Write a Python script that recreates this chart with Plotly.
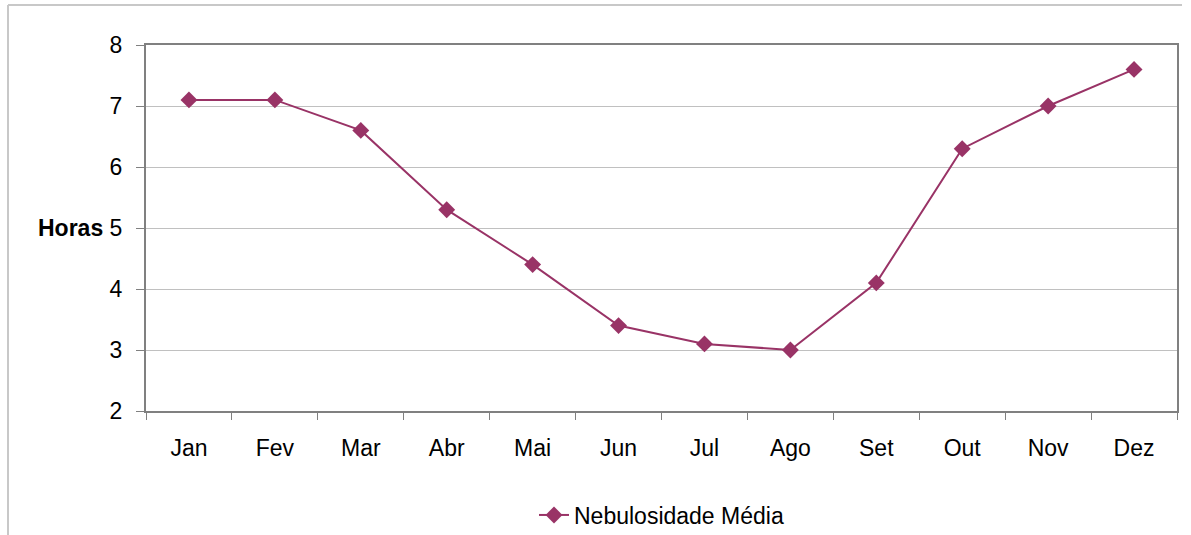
import plotly.graph_objects as go

months = ["Jan", "Fev", "Mar", "Abr", "Mai", "Jun", "Jul", "Ago", "Set", "Out", "Nov", "Dez"]
nebulosidade = [7.1, 7.1, 6.6, 5.3, 4.4, 3.4, 3.1, 3.0, 4.1, 6.3, 7.0, 7.6]
y_ticks = [2, 3, 4, 5, 6, 7, 8]

color = "#993366"
font = "Liberation Sans, Arial, sans-serif"

fig = go.Figure()
fig.add_trace(go.Scatter(
    x=months, y=nebulosidade, mode="lines+markers",
    name="Nebulosidade Média",
    line=dict(color=color, width=2),
    marker=dict(symbol="diamond", size=13, color=color),
))

W, H = 1191, 535
L, R, T, B = 146, 14, 45, 124
pw, ph = W - L - R, H - T - B

def px(x):
    return (x - L) / pw

def py(y):
    return (H - B - y) / ph

fig.update_layout(
    width=W, height=H,
    margin=dict(l=L, r=R, t=T, b=B, autoexpand=False),
    paper_bgcolor="white", plot_bgcolor="white",
    font=dict(family=font, size=23, color="black"),
    showlegend=True,
    legend=dict(orientation="h", x=0.5, xanchor="center", y=py(515), yanchor="middle",
                font=dict(size=23), bgcolor="rgba(0,0,0,0)"),
    xaxis=dict(
        type="category", tickson="boundaries", ticks="outside", ticklen=7,
        tickcolor="#808080", tickwidth=1, automargin=False,
        showline=True, linecolor="#808080", linewidth=2, mirror=True,
        showgrid=False, ticklabelstandoff=15, range=[-0.5, 11.5],
    ),
    yaxis=dict(
        range=[2, 8], tickvals=y_ticks, ticks="outside", ticklen=8,
        tickcolor="#808080", tickwidth=1, automargin=False,
        showline=True, linecolor="#808080", linewidth=2, mirror=True,
        showgrid=True, gridcolor="#c0c0c0", gridwidth=1,
        ticklabelstandoff=9, zeroline=False,
    ),
    shapes=[
        dict(type="line", xref="paper", yref="paper", x0=px(8), x1=px(1182), y0=py(5), y1=py(5),
             line=dict(color="#c8c8c8", width=2)),
        dict(type="line", xref="paper", yref="paper", x0=px(8), x1=px(8), y0=py(5), y1=py(540),
             line=dict(color="#c8c8c8", width=2)),
    ],
    annotations=[
        dict(text="<b>Horas</b>", xref="paper", yref="y", x=px(105), y=5, xanchor="right",
             yanchor="middle", showarrow=False, font=dict(size=23, color="black")),
    ],
)

fig.write_html("out.html")
